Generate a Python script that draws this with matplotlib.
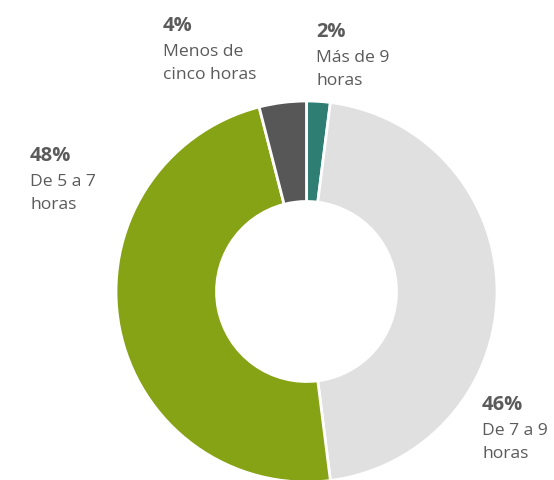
import matplotlib.pyplot as plt

# Hours of sleep per night, share of respondents
shares = [2, 46, 48, 4]
pct_labels = ["2%", "46%", "48%", "4%"]
names = ["Más de 9\nhoras", "De 7 a 9\nhoras", "De 5 a 7\nhoras", "Menos de\ncinco horas"]
colors = ["#2e7e73", "#e0e0e0", "#86a315", "#575757"]

# label anchor (left, top) in pixels from the top-left corner
label_pos = [(316, 22), (482, 395), (30, 146), (163, 16)]

W, H = 554, 480
plt.rcParams["font.family"] = ["Open Sans", "DejaVu Sans"]
fig = plt.figure(figsize=(W / 100, H / 100), dpi=100)
ax = fig.add_axes([0, 0, 1, 1])

cx, cy, r_out, r_in = 306.5, 291.5, 190.5, 90
ax.pie(
    shares,
    colors=colors,
    startangle=90,
    counterclock=False,
    center=(cx, H - cy),
    radius=r_out,
    frame=True,
    wedgeprops=dict(width=r_out - r_in, edgecolor="white", linewidth=2),
)
ax.set_xlim(0, W)
ax.set_ylim(0, H)
ax.set_aspect("equal")
ax.axis("off")

text_color = "#5b5b5b"
for (x, y), pct, name in zip(label_pos, pct_labels, names):
    ax.text(x, H - y, pct, fontsize=14.5, fontweight="bold", color=text_color,
            ha="left", va="top")
    ax.text(x, H - y - 28, name, fontsize=12.6, color=text_color,
            ha="left", va="top", linespacing=1.55)

fig.savefig("out.png", dpi=100)
